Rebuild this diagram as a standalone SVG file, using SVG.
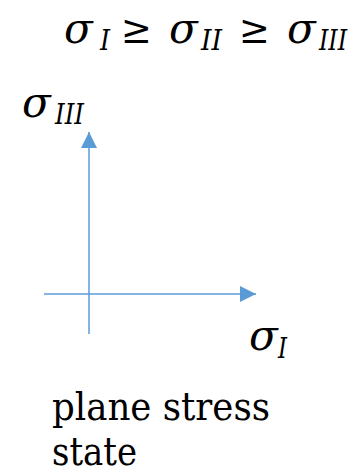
<svg xmlns="http://www.w3.org/2000/svg" width="357" height="475" viewBox="0 0 357 475">
<style>
.f{font-family:'DejaVu Serif',serif;fill:#000}
.i{font-style:italic}
.g{font-size:42px}
.s{font-size:28px}
.c{font-size:39px}
.ax{stroke:#5b9bd5;stroke-width:1.5;fill:none}
</style>
<defs>
<marker id="ah" viewBox="0 0 16 16" refX="16" refY="8" markerWidth="16" markerHeight="16" markerUnits="userSpaceOnUse" orient="auto">
<path d="M0,0 L16,8 L0,16 Z" fill="#5b9bd5"/>
</marker>
</defs>
<g id="formula">
<text class="f i g" x="64" y="43">σ</text>
<text class="f i s" x="100" y="50" textLength="10" lengthAdjust="spacingAndGlyphs">I</text>
<text class="f" x="121" y="43" font-size="40" textLength="31" lengthAdjust="spacingAndGlyphs">≥</text>
<text class="f i g" x="169" y="43">σ</text>
<text class="f i s" x="201" y="50" textLength="21" lengthAdjust="spacingAndGlyphs">II</text>
<text class="f" x="239" y="43" font-size="40" textLength="31" lengthAdjust="spacingAndGlyphs">≥</text>
<text class="f i g" x="287" y="43">σ</text>
<text class="f i s" x="319" y="50" textLength="28" lengthAdjust="spacingAndGlyphs">III</text>
</g>
<g id="connectors">
<line class="ax" x1="89" y1="334" x2="89" y2="132" marker-end="url(#ah)"/>
<line class="ax" x1="44" y1="294" x2="256" y2="294" marker-end="url(#ah)"/>
</g>
<g id="label-sigma3">
<text class="f i g" x="22" y="117">σ</text>
<text class="f i s" x="55" y="124" textLength="29" lengthAdjust="spacingAndGlyphs">III</text>
</g>
<g id="label-sigma1">
<text class="f i g" x="249" y="350">σ</text>
<text class="f i s" x="278" y="358" textLength="9" lengthAdjust="spacingAndGlyphs">I</text>
</g>
<g id="caption">
<text class="f c" x="52" y="420" textLength="218" lengthAdjust="spacingAndGlyphs">plane stress</text>
<text class="f c" x="52" y="465" textLength="85" lengthAdjust="spacingAndGlyphs">state</text>
</g>
</svg>
